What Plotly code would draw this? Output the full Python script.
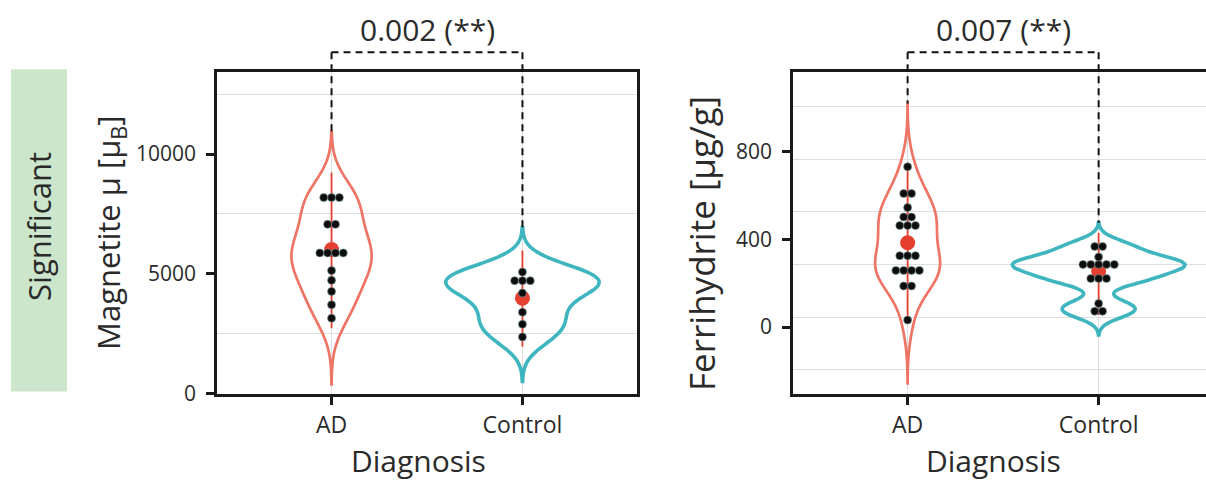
import numpy as np
import plotly.graph_objects as go

# ---------------- data ----------------
groups = ["AD", "Control"]
group_pos = [0, 1]

magnetite_ad = [8180, 8180, 8180, 7064, 7064, 5872, 5872, 5872, 5872, 5134, 4727, 4266, 3708, 3146]
magnetite_ctrl = [5075, 4715, 4715, 4715, 4195, 3398, 2894, 2366]
magnetite_mean = [6015, 3985]
magnetite_low = [2727, 1959]
magnetite_high = [9228, 5973]
magnetite_bw = [920, 620]

ferri_ad = [730, 608, 608, 544, 501, 501, 462, 462, 462, 325, 325, 325,
            258, 258, 258, 258, 187, 187, 32]
ferri_ctrl = [367, 367, 319, 285, 285, 285, 285, 285, 221, 221, 221, 107, 72, 72]
ferri_mean = [384, 255]
ferri_low = [26, 55]
ferri_high = [740, 430]
ferri_bw = [96, 36]

p_labels = ["0.002 (**)", "0.007 (**)"]
magnetite_ticks = [0, 5000, 10000]
magnetite_grid = [2500, 7500, 12500]
ferri_ticks = [0, 400, 800]
ferri_grid = [1005, 765, 525, 285, 45, -195]

# ---------------- styles / layout helpers ----------------
REF_W, REF_H = 1206, 481
W, H = 1206, 496          # the capture squeezes the page height slightly


def px(x):
    return x / REF_W


def py(y):
    return 1 - y / REF_H


FONT = "Open Sans"
TXT = "#2a2a2a"
COL = {"AD": "#EE7465", "Control": "#3FB5BF"}
LW = {"AD": 2.7, "Control": 3.6}
RED = "#E5402F"
GRID = "#DEDEDE"
AX = "#1a1a1a"
DOT_DX = 0.041

panels = [
    dict(xa="x", ya="y", data=[magnetite_ad, magnetite_ctrl], bw=magnetite_bw,
         mean=magnetite_mean, lo=magnetite_low, hi=magnetite_high,
         widths=[0.42, 0.80], xr=[-0.6, 1.6], yr=[0, 13410]),
    dict(xa="x2", ya="y2", data=[ferri_ad, ferri_ctrl], bw=ferri_bw,
         mean=ferri_mean, lo=ferri_low, hi=ferri_high,
         widths=[0.34, 0.905], xr=[-0.6, 1.562], yr=[-303, 1160]),
]

fig = go.Figure()
shapes = []
annotations = []

for p, lab in zip(panels, p_labels):
    tops = []
    for g, pos, vals, bw, w in zip(groups, group_pos, p["data"], p["bw"], p["widths"]):
        lo_s, hi_s = min(vals) - 3 * bw, max(vals) + 3 * bw
        tops.append(hi_s)
        fig.add_trace(go.Violin(
            x=[pos] * len(vals), y=vals, xaxis=p["xa"], yaxis=p["ya"],
            bandwidth=bw, spanmode="manual", span=[lo_s, hi_s],
            scalemode="width", width=w, points=False,
            line=dict(color=COL[g], width=LW[g]), fillcolor="rgba(0,0,0,0)",
            hoverinfo="skip", showlegend=False))
    # mean and interval
    fig.add_trace(go.Scatter(
        x=group_pos, y=p["mean"], xaxis=p["xa"], yaxis=p["ya"], mode="markers",
        marker=dict(color=RED, size=15),
        error_y=dict(type="data", symmetric=False,
                     array=[h - m for h, m in zip(p["hi"], p["mean"])],
                     arrayminus=[m - l for m, l in zip(p["mean"], p["lo"])],
                     width=0, thickness=1.8, color=RED),
        showlegend=False, hoverinfo="skip"))
    # dot plot
    for pos, vals in zip(group_pos, p["data"]):
        xs, ys = [], []
        uniq, counts = np.unique(vals, return_counts=True)
        for v, k in zip(uniq, counts):
            for i in range(k):
                xs.append(pos + (i - (k - 1) / 2) * DOT_DX)
                ys.append(v)
        fig.add_trace(go.Scatter(
            x=xs, y=ys, xaxis=p["xa"], yaxis=p["ya"], mode="markers",
            marker=dict(color="#0d0d0d", size=8,
                        line=dict(color="rgba(120,150,150,0.9)", width=0.7)),
            showlegend=False, hoverinfo="skip"))
    # significance bracket
    xr, yr = p["xr"], p["yr"]
    fx = [(pos - xr[0]) / (xr[1] - xr[0]) for pos in group_pos]
    ybr = (392 - 52) / 320
    dash = dict(color="#111", width=2, dash="7px,5px")
    xd = p["xa"] + " domain"
    yd = p["ya"] + " domain"
    shapes.append(dict(type="line", xref=xd, yref=yd, x0=fx[0], x1=fx[1],
                       y0=ybr, y1=ybr, line=dash))
    for f, t in zip(fx, tops):
        fy = (t - yr[0]) / (yr[1] - yr[0])
        shapes.append(dict(type="line", xref=xd, yref=yd, x0=f, x1=f,
                           y0=ybr, y1=fy, line=dash))
    annotations.append(dict(text=lab, xref=xd, yref="paper",
                            x=(fx[0] + fx[1]) / 2, y=py(29), yanchor="middle",
                            showarrow=False, font=dict(family=FONT, size=30, color=TXT)))


def label(text, x, y, size, angle=0):
    annotations.append(dict(text=text, xref="paper", yref="paper", x=px(x), y=py(y),
                            xanchor="center", yanchor="middle", textangle=angle,
                            showarrow=False, font=dict(family=FONT, size=size, color=TXT)))


label("Diagnosis", 419, 459, 30)
label("Diagnosis", 993, 459, 30)
label("Magnetite μ [μ<sub>B</sub>]", 110, 232, 31, -90)
label("Ferrihydrite [μg/g]", 701, 243, 35, -90)
label("Significant", 39, 226, 31, -90)

shapes.append(dict(type="rect", xref="paper", yref="paper", layer="below",
                   x0=px(11), x1=px(67), y0=py(390), y1=py(69),
                   fillcolor="#CCE6CC", line=dict(width=0)))

xcommon = dict(tickvals=group_pos, ticktext=groups, showgrid=True, gridcolor=GRID,
               gridwidth=1, zeroline=False, showline=True, linecolor=AX, linewidth=2.6,
               mirror=True, ticks="outside", ticklen=9, tickwidth=2.6, tickcolor=AX,
               tickfont=dict(family=FONT, size=23, color=TXT))
ycommon = dict(showgrid=False, zeroline=False, showline=True, linecolor=AX,
               linewidth=2.6, ticks="outside", ticklen=8, tickwidth=2.6, tickcolor=AX,
               tickformat="d", ticklabelstandoff=6,
               tickfont=dict(family=FONT, size=21, color=TXT))

ydom = [py(392), py(72)]
fig.update_layout(
    width=W, height=H, margin=dict(l=0, r=0, t=0, b=0),
    paper_bgcolor="white", plot_bgcolor="white", violinmode="overlay",
    xaxis=dict(domain=[px(217), px(637)], range=panels[0]["xr"], anchor="y", **xcommon),
    yaxis=dict(domain=ydom, range=panels[0]["yr"], anchor="x", mirror=True,
               tickvals=magnetite_ticks,
               minor=dict(tickvals=magnetite_grid, showgrid=True, gridcolor=GRID, ticks=""),
               **ycommon),
    xaxis2=dict(domain=[px(793), 1.0], range=panels[1]["xr"], anchor="y2", **xcommon),
    yaxis2=dict(domain=ydom, range=panels[1]["yr"], anchor="x2", mirror=False,
                tickvals=ferri_ticks,
                minor=dict(tickvals=ferri_grid, showgrid=True, gridcolor=GRID, ticks=""),
                **ycommon),
    shapes=shapes, annotations=annotations,
)

fig.write_html("out.html", config={"displayModeBar": False},
               post_script="document.body.style.margin='0';"
                           "document.body.style.overflow='hidden';")
